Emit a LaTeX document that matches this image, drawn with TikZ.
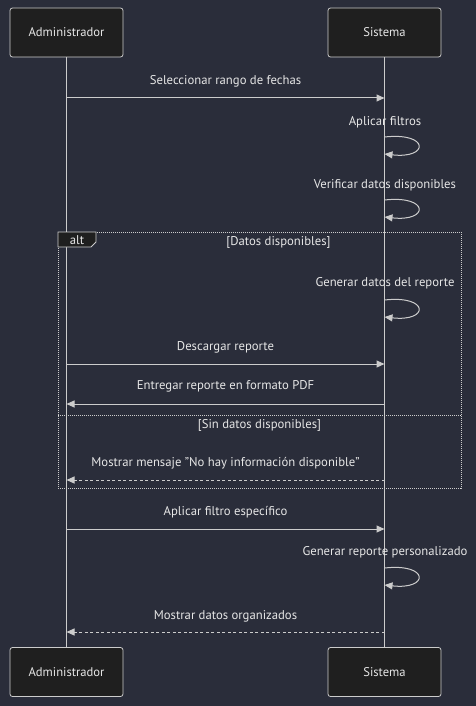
\documentclass[tikz,border=0pt]{standalone}
\usepackage{fontspec}
\setmainfont{PT Sans}
\usetikzlibrary{arrows.meta}
\definecolor{bg}{HTML}{2A2D3A}
\definecolor{boxfill}{HTML}{1F1F1F}
\definecolor{ln}{HTML}{CCCCCC}
\definecolor{txt}{HTML}{E6E6E6}
\begin{document}
\begin{tikzpicture}[x=1pt,y=-1pt,
  actor/.style={draw=ln, fill=boxfill, rounded corners=2.5pt, minimum width=113pt, minimum height=49pt, text=txt, font=\fontsize{12.6}{14}\selectfont, line width=0.8pt},
  lifeline/.style={draw=ln, line width=1pt},
  msg/.style={draw=ln, line width=1pt, -{Triangle[length=8pt,width=7pt]}},
  ret/.style={msg, dash pattern=on 3pt off 2.5pt},
  lbl/.style={text=txt, font=\fontsize{12.7}{14}\selectfont, inner sep=0pt},
  frame/.style={draw=ln, line width=0.9pt, dash pattern=on 1pt off 1pt}
]
\useasboundingbox[fill=bg] (0,0) rectangle (476,706);

% actors
\node[actor] (a1) at (66.5,32.5) {Administrador};
\node[actor] (s1) at (384.5,32.5) {Sistema};
\node[actor] (a2) at (66.5,672) {Administrador};
\node[actor] (s2) at (384.5,672) {Sistema};

% lifelines
\draw[lifeline] (a1.south) -- (a2.north);
\draw[lifeline] (s1.south) -- (s2.north);

% message coordinates
\foreach \n/\y in {m1/98, m6/364, m7/404, m8/480, m9/529, m12/632} {
  \coordinate (A\n) at (66.5,\y);
  \coordinate (S\n) at (384.5,\y);
}
\foreach \n/\y in {l1/137, l2/200, l3/300, l4/568} {
  \coordinate (S\n) at (384.5,\y);
  \coordinate (E\n) at (384.5,\y+17);
}

% alt frame
\draw[frame] (58,232) rectangle (461,488);
\draw[frame] (58,415) -- (461,415);
\draw[draw=ln, fill=boxfill, line width=0.8pt] (58,232) -- (96,232) -- (96,242) -- (91,247) -- (58,247) -- cycle;
\node[lbl] (alt) at (77,240.5) {alt};
\node[lbl] (g1) at (278.5,242.5) {[Datos disponibles]};
\node[lbl] (g2) at (259.5,425.5) {[Sin datos disponibles]};

% messages
\node[lbl] (t1) at (225.5,81.5) {Seleccionar rango de fechas};
\draw[msg] (Am1) -- (Sm1);

\node[lbl] (t2) at (385,122.5) {Aplicar filtros};
\draw[msg] (Sl1) .. controls ++(45,-5) and ++(45,5) .. (El1);

\node[lbl] (t3) at (385,185.5) {Verificar datos disponibles};
\draw[msg] (Sl2) .. controls ++(45,-5) and ++(45,5) .. (El2);

\node[lbl] (t4) at (385,283.5) {Generar datos del reporte};
\draw[msg] (Sl3) .. controls ++(45,-5) and ++(45,5) .. (El3);

\node[lbl] (t5) at (225.5,347.5) {Descargar reporte};
\draw[msg] (Am6) -- (Sm6);

\node[lbl] (t6) at (225.5,386.5) {Entregar reporte en formato PDF};
\draw[msg] (Sm7) -- (Am7);

\node[lbl] (t7) at (225.5,463.5) {Mostrar mensaje \symbol{34}No hay información disponible\symbol{34}};
\draw[ret] (Sm8) -- (Am8);

\node[lbl] (t8) at (225.5,512.5) {Aplicar filtro específico};
\draw[msg] (Am9) -- (Sm9);

\node[lbl] (t9) at (385,552.5) {Generar reporte personalizado};
\draw[msg] (Sl4) .. controls ++(45,-5) and ++(45,5) .. (El4);

\node[lbl] (t10) at (225.5,616.5) {Mostrar datos organizados};
\draw[ret] (Sm12) -- (Am12);
\end{tikzpicture}
\end{document}
